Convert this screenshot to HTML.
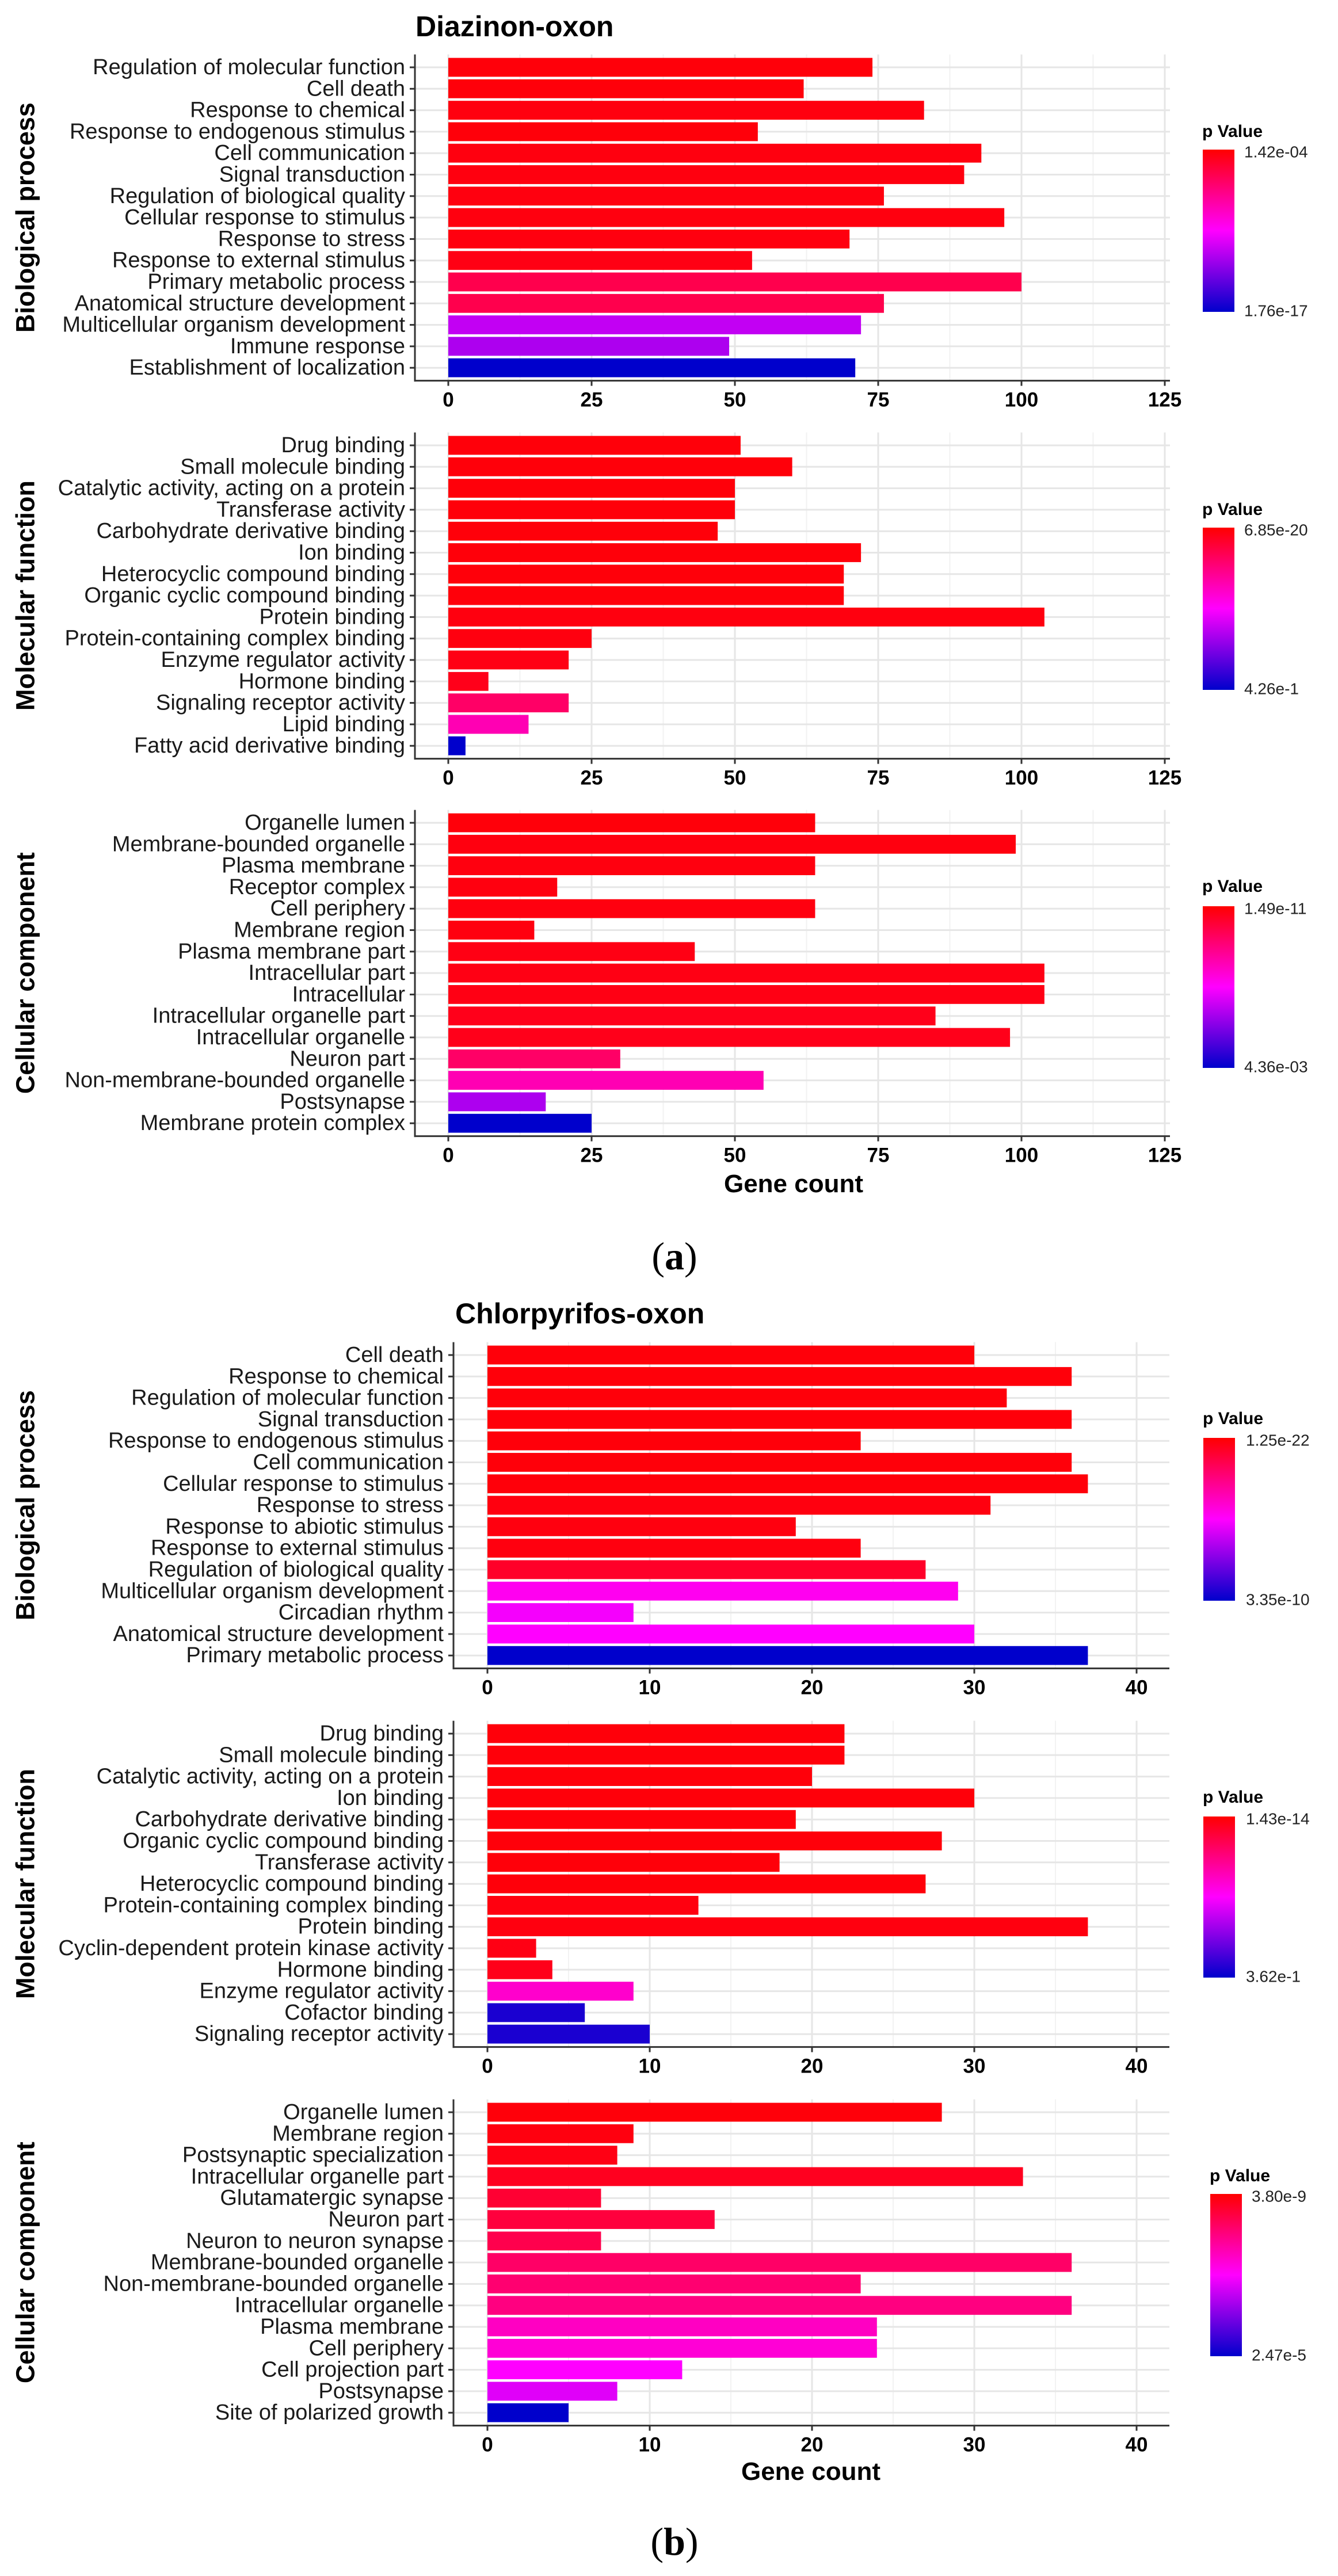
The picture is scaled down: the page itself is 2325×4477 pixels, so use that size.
<!DOCTYPE html>
<html><head><meta charset="utf-8"><title>GO enrichment - Diazinon-oxon / Chlorpyrifos-oxon</title>
<style>
html,body{margin:0;padding:0;background:#fff;}
svg{display:block;font-family:"Liberation Sans",Arial,sans-serif;}
</style></head>
<body>
<svg id="fig" xmlns="http://www.w3.org/2000/svg" width="2325" height="4477" viewBox="0 0 2325 4477">
<defs>
<linearGradient id="pgrad" x1="0" y1="0" x2="0" y2="1">
<stop offset="0" stop-color="#ff0000"/><stop offset="0.5" stop-color="#ff00ff"/><stop offset="1" stop-color="#0000cc"/>
</linearGradient>
</defs>
<text x="722" y="63" font-size="50" font-weight="bold" fill="#000">Diazinon-oxon</text>
<text x="791" y="2300" font-size="50" font-weight="bold" fill="#000">Chlorpyrifos-oxon</text>
<text x="1379" y="2072" font-size="44" font-weight="bold" text-anchor="middle">Gene count</text>
<text x="1409" y="4310" font-size="44" font-weight="bold" text-anchor="middle">Gene count</text>
<text x="1172" y="2206" font-size="68" text-anchor="middle" font-family="Liberation Serif, serif">(<tspan font-weight="bold">a</tspan>)</text>
<text x="1172" y="4440" font-size="68" text-anchor="middle" font-family="Liberation Serif, serif">(<tspan font-weight="bold">b</tspan>)</text>
<g id="charts"></g>
</svg>
<script>
// ---------- Data (Figure a: Diazinon-oxon) ----------
const aBPLabels = ["Regulation of molecular function","Cell death","Response to chemical","Response to endogenous stimulus","Cell communication","Signal transduction","Regulation of biological quality","Cellular response to stimulus","Response to stress","Response to external stimulus","Primary metabolic process","Anatomical structure development","Multicellular organism development","Immune response","Establishment of localization"];
const aBPCounts = [74,62,83,54,93,90,76,97,70,53,100,76,72,49,71];
const aBPColor = [0.02,0.02,0.03,0.02,0.03,0.03,0.03,0.03,0.03,0.04,0.15,0.15,0.62,0.66,1.0];
const aBPLegend = ["1.42e-04","1.76e-17"];

const aMFLabels = ["Drug binding","Small molecule binding","Catalytic activity, acting on a protein","Transferase activity","Carbohydrate derivative binding","Ion binding","Heterocyclic compound binding","Organic cyclic compound binding","Protein binding","Protein-containing complex binding","Enzyme regulator activity","Hormone binding","Signaling receptor activity","Lipid binding","Fatty acid derivative binding"];
const aMFCounts = [51,60,50,50,47,72,69,69,104,25,21,7,21,14,3];
const aMFColor = [0.02,0.02,0.02,0.02,0.02,0.02,0.02,0.02,0.03,0.03,0.04,0.05,0.2,0.35,1.0];
const aMFLegend = ["6.85e-20","4.26e-1"];

const aCCLabels = ["Organelle lumen","Membrane-bounded organelle","Plasma membrane","Receptor complex","Cell periphery","Membrane region","Plasma membrane part","Intracellular part","Intracellular","Intracellular organelle part","Intracellular organelle","Neuron part","Non-membrane-bounded organelle","Postsynapse","Membrane protein complex"];
const aCCCounts = [64,99,64,19,64,15,43,104,104,85,98,30,55,17,25];
const aCCColor = [0.02,0.03,0.03,0.03,0.03,0.03,0.04,0.04,0.04,0.05,0.05,0.2,0.35,0.66,1.0];
const aCCLegend = ["1.49e-11","4.36e-03"];

// ---------- Data (Figure b: Chlorpyrifos-oxon) ----------
const bBPLabels = ["Cell death","Response to chemical","Regulation of molecular function","Signal transduction","Response to endogenous stimulus","Cell communication","Cellular response to stimulus","Response to stress","Response to abiotic stimulus","Response to external stimulus","Regulation of biological quality","Multicellular organism development","Circadian rhythm","Anatomical structure development","Primary metabolic process"];
const bBPCounts = [30,36,32,36,23,36,37,31,19,23,27,29,9,30,37];
const bBPColor = [0.02,0.02,0.02,0.02,0.02,0.02,0.02,0.03,0.03,0.03,0.08,0.47,0.52,0.5,1.0];
const bBPLegend = ["1.25e-22","3.35e-10"];

const bMFLabels = ["Drug binding","Small molecule binding","Catalytic activity, acting on a protein","Ion binding","Carbohydrate derivative binding","Organic cyclic compound binding","Transferase activity","Heterocyclic compound binding","Protein-containing complex binding","Protein binding","Cyclin-dependent protein kinase activity","Hormone binding","Enzyme regulator activity","Cofactor binding","Signaling receptor activity"];
const bMFCounts = [22,22,20,30,19,28,18,27,13,37,3,4,9,6,10];
const bMFColor = [0.02,0.02,0.02,0.02,0.02,0.02,0.02,0.02,0.03,0.03,0.04,0.05,0.4,0.95,0.95];
const bMFLegend = ["1.43e-14","3.62e-1"];

const bCCLabels = ["Organelle lumen","Membrane region","Postsynaptic specialization","Intracellular organelle part","Glutamatergic synapse","Neuron part","Neuron to neuron synapse","Membrane-bounded organelle","Non-membrane-bounded organelle","Intracellular organelle","Plasma membrane","Cell periphery","Cell projection part","Postsynapse","Site of polarized growth"];
const bCCCounts = [28,9,8,33,7,14,7,36,23,36,24,24,12,8,5];
const bCCColor = [0.02,0.03,0.04,0.06,0.1,0.12,0.15,0.2,0.22,0.25,0.38,0.42,0.5,0.56,1.0];
const bCCLegend = ["3.80e-9","2.47e-5"];

const aTicks = [0,25,50,75,100,125];
const bTicks = [0,10,20,30,40];
const panelTitles = ["Biological process","Molecular function","Cellular component"];

const NS = "http://www.w3.org/2000/svg";
const root = document.getElementById("charts");
function mk(tag, attrs, parent){
  const e = document.createElementNS(NS, tag);
  for (const k in attrs) e.setAttribute(k, attrs[k]);
  (parent||root).appendChild(e);
  return e;
}
function colorAt(t){
  let r,g,b;
  if (t <= 0.5){ const u=t/0.5; r=255; g=0; b=Math.round(255*u); }
  else { const u=(t-0.5)/0.5; r=Math.round(255*(1-u)); g=0; b=Math.round(255-(255-204)*u); }
  return "rgb("+r+","+g+","+b+")";
}

function drawPanel(cfg){
  const g = mk("g", {});
  
  
  const pitch = 37.3;
  const n = cfg.labels.length;
  const top = cfg.firstY - 0.6*pitch;
  const bottom = cfg.firstY + (n-1)*pitch + 0.6*pitch;
  const xs = v => cfg.x0 + v*cfg.unit;
  const ys = i => cfg.firstY + i*pitch;
  // minor vertical grid
  for (let i=0;i<cfg.ticks.length-1;i++){
    const m = (cfg.ticks[i]+cfg.ticks[i+1])/2;
    const l = mk("line",{x1:xs(m),x2:xs(m),y1:top,y2:bottom,stroke:"#f2f2f2","stroke-width":2},g);
    
    
  }
  // major vertical grid
  cfg.ticks.forEach(t=>{
    const l = mk("line",{x1:xs(t),x2:xs(t),y1:top,y2:bottom,stroke:"#e6e6e6","stroke-width":3},g);
    
    
  });
  // horizontal grid
  for (let i=0;i<n;i++){
    const l = mk("line",{x1:cfg.axisX,x2:cfg.right,y1:ys(i),y2:ys(i),stroke:"#e6e6e6","stroke-width":3},g);
    
    
  }
  // bars
  const bh = 0.88*pitch;
  for (let i=0;i<n;i++){
    const r = mk("rect",{x:xs(0),y:ys(i)-bh/2,width:xs(cfg.counts[i])-xs(0),height:bh,fill:colorAt(cfg.colors[i])},g);
    
    
    const tk = mk("line",{x1:cfg.axisX-9,x2:cfg.axisX,y1:ys(i),y2:ys(i),stroke:"#333","stroke-width":3},g);
    
    
    const tx = mk("text",{x:cfg.axisX-17,y:ys(i),"font-size":38,"text-anchor":"end","dominant-baseline":"central",fill:"#1a1a1a"},g);
    tx.textContent = cfg.labels[i];
    
    
  }
  // axes
  const ax = mk("line",{x1:cfg.axisX,x2:cfg.axisX,y1:top,y2:bottom+1.5,stroke:"#333","stroke-width":3},g);
  
  
  const bx = mk("line",{x1:cfg.axisX-1.5,x2:cfg.right,y1:bottom,y2:bottom,stroke:"#333","stroke-width":3},g);
  
  
  cfg.ticks.forEach(t=>{
    const tk = mk("line",{x1:xs(t),x2:xs(t),y1:bottom,y2:bottom+9,stroke:"#333","stroke-width":3},g);
    
    
    const tl = mk("text",{x:xs(t),y:bottom+45,"font-size":35,"font-weight":"bold","text-anchor":"middle",fill:"#000"},g);
    tl.textContent = String(t);
    
    
  });
  // y-axis title
  const cy = (top+bottom)/2;
  const yt = mk("text",{x:44,y:cy,"font-size":45,"font-weight":"bold","text-anchor":"middle","dominant-baseline":"central",transform:"rotate(-90 44 "+cy+")"},g);
  yt.textContent = cfg.title;
  
  
  // legend
  const L = cfg.legend;
  const lt = mk("text",{x:L.x-1,y:L.titleY,"font-size":30,"font-weight":"bold"},g);
  lt.textContent = "p Value";
  
  
  const cb = mk("rect",{x:L.x,y:L.y0,width:55,height:L.y1-L.y0,fill:"url(#pgrad)"},g);
  
  
  const l1 = mk("text",{x:L.lx,y:L.y0+4,"font-size":28,"dominant-baseline":"central",fill:"#222"},g);
  l1.textContent = cfg.legendLabels[0];
  
  
  const l2 = mk("text",{x:L.lx,y:L.y1-2,"font-size":28,"dominant-baseline":"central",fill:"#222"},g);
  l2.textContent = cfg.legendLabels[1];
  
  
}

const A = {axisX:721,x0:779,unit:9.96,right:2033,ticks:aTicks};
const B = {axisX:788,x0:847,unit:28.2,right:2032,ticks:bTicks};
drawPanel(Object.assign({},A,{name:"a-biological-process-panel",title:panelTitles[0],labels:aBPLabels,counts:aBPCounts,colors:aBPColor,legendLabels:aBPLegend,firstY:117,legend:{x:2090,titleY:238,y0:260,y1:542,lx:2162}}));
drawPanel(Object.assign({},A,{name:"a-molecular-function-panel",title:panelTitles[1],labels:aMFLabels,counts:aMFCounts,colors:aMFColor,legendLabels:aMFLegend,firstY:774,legend:{x:2090,titleY:895,y0:917,y1:1199,lx:2162}}));
drawPanel(Object.assign({},A,{name:"a-cellular-component-panel",title:panelTitles[2],labels:aCCLabels,counts:aCCCounts,colors:aCCColor,legendLabels:aCCLegend,firstY:1430,legend:{x:2090,titleY:1550,y0:1575,y1:1856,lx:2162}}));
drawPanel(Object.assign({},B,{name:"b-biological-process-panel",title:panelTitles[0],labels:bBPLabels,counts:bBPCounts,colors:bBPColor,legendLabels:bBPLegend,firstY:2355,legend:{x:2091,titleY:2475,y0:2499,y1:2782,lx:2165}}));
drawPanel(Object.assign({},B,{name:"b-molecular-function-panel",title:panelTitles[1],labels:bMFLabels,counts:bMFCounts,colors:bMFColor,legendLabels:bMFLegend,firstY:3013,legend:{x:2091,titleY:3133,y0:3157,y1:3437,lx:2165}}));
drawPanel(Object.assign({},B,{name:"b-cellular-component-panel",title:panelTitles[2],labels:bCCLabels,counts:bCCCounts,colors:bCCColor,legendLabels:bCCLegend,firstY:3671,legend:{x:2103,titleY:3791,y0:3813,y1:4095,lx:2175}}));
</script>
</body></html>
